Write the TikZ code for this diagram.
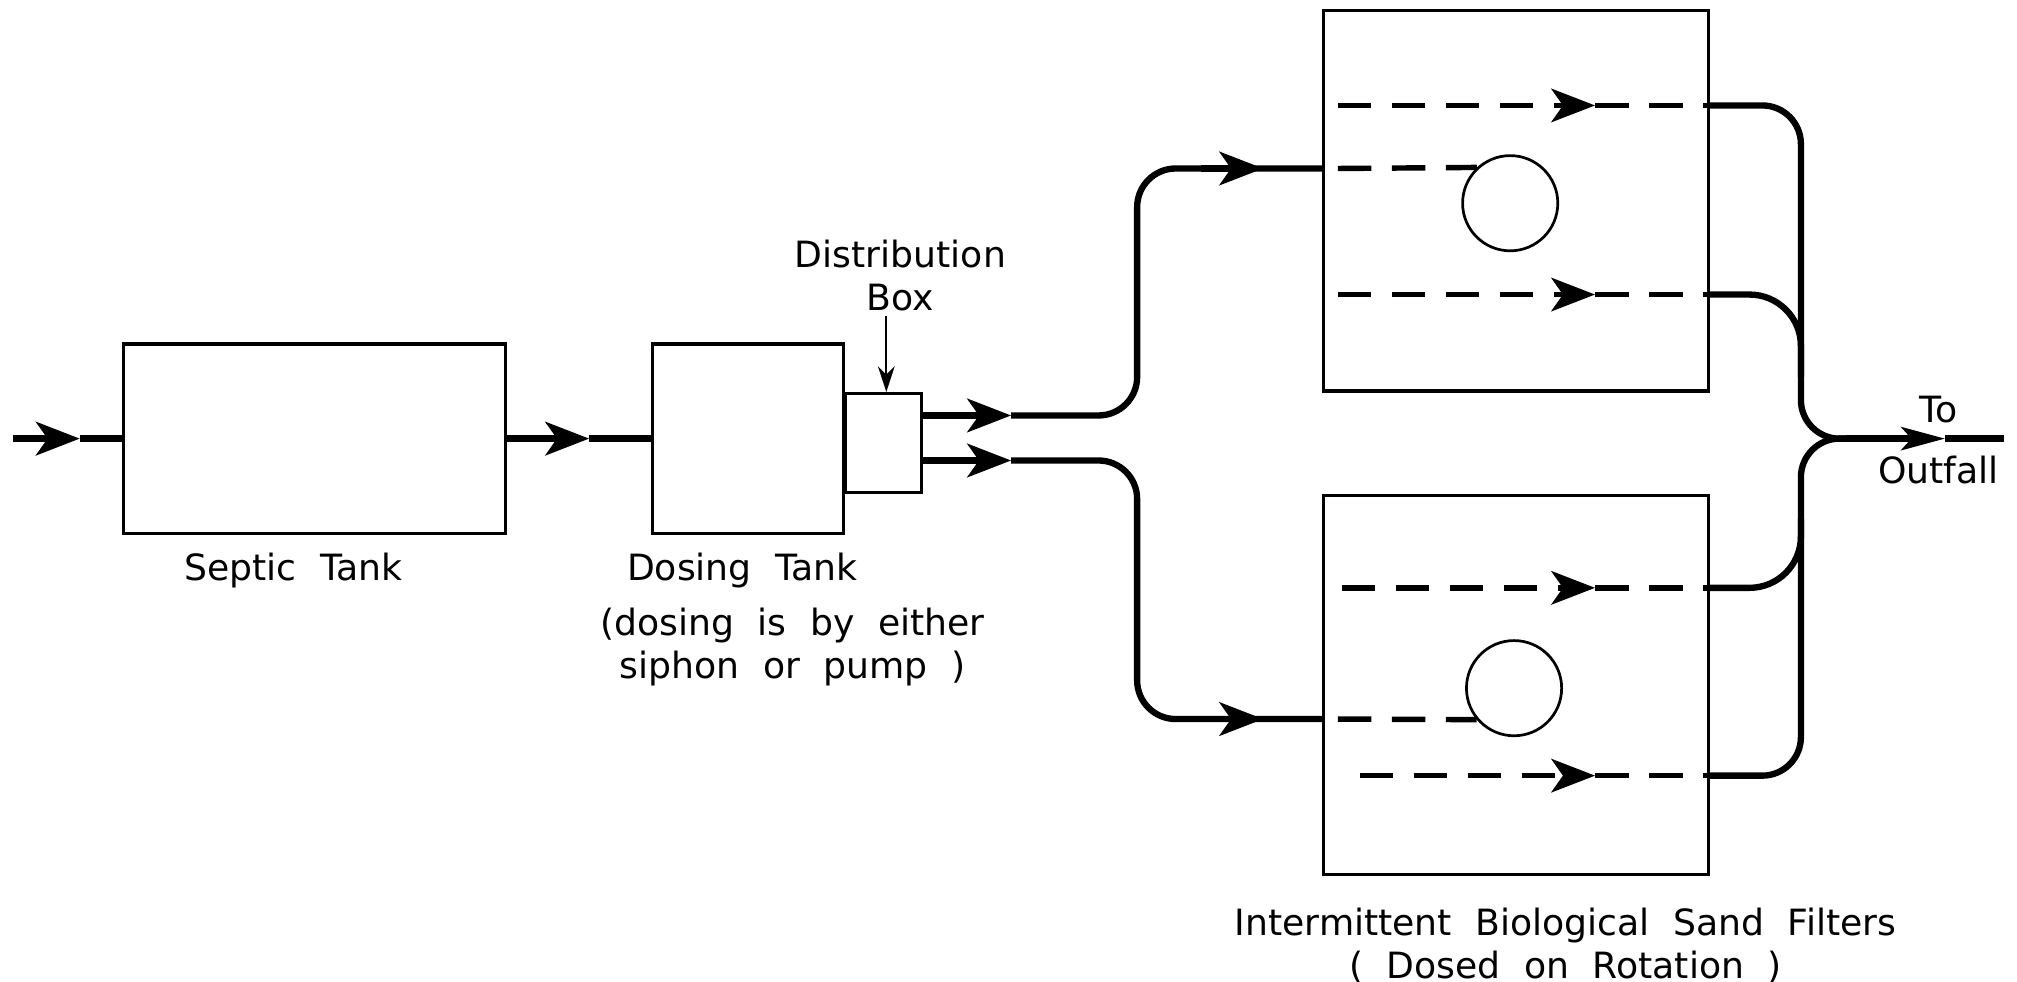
\documentclass[tikz,border=0pt]{standalone}
\usepackage{fontspec}
\setmainfont{DejaVu Sans}
\usetikzlibrary{arrows.meta,positioning}
\newcommand\lblfont{\fontsize{8}{9.5}\selectfont\spaceskip=0.65em\relax}

\begin{document}
\begin{tikzpicture}[
  flow/.style={line width=1.4pt},
  tank/.style={draw, line width=0.7pt, inner sep=0pt},
  seep/.style={line width=1.2pt, dash pattern=on 2.6mm off 1.6mm},
  head/.style={-{Stealth[length=3.4mm,width=2.6mm,inset=0.9mm]}},
  thinhead/.style={-{Stealth[length=3.4mm,width=1.8mm,inset=0.8mm]}},
  pointer/.style={line width=0.5pt,-{Stealth[length=2mm,width=1.3mm]}},
  lbl/.style={font=\lblfont, align=center, inner sep=0pt},
  hole/.style={draw, circle, line width=0.6pt, minimum size=7.4mm, inner sep=0pt}
]
\useasboundingbox (0,0) rectangle (15.68,7.63);

% tanks
\node[tank, minimum width=2.97cm, minimum height=1.47cm] (septic) at (2.445,4.22) {};
\node[tank, minimum width=1.49cm, minimum height=1.47cm] (dosing) at (5.815,4.22) {};
\node[tank, minimum width=0.59cm, minimum height=0.77cm, anchor=west] (distbox) at (6.56,4.185) {};

% filters
\node[tank, minimum width=2.99cm, minimum height=2.96cm] (ftop) at (11.785,6.07) {};
\node[tank, minimum width=2.99cm, minimum height=2.95cm] (fbot) at (11.785,2.305) {};
\node[hole] (htop) at (11.74,6.05) {};
\node[hole] (hbot) at (11.77,2.28) {};

% labels
\node[lbl, anchor=base] (septiclbl) at (2.28,3.12) {Septic Tank};
\node[lbl, anchor=base] (dosinglbl) at (5.77,3.12) {Dosing Tank};
\node[lbl, anchor=north] (notelbl) at (6.16,2.91) {(dosing is by either\\siphon or pump )};
\node[lbl, anchor=north] (distlbl) at (7.00,5.77) {Distribution\\Box};
\node[lbl, anchor=north] (filterlbl) at (12.17,0.58) {Intermittent Biological Sand Filters\\( Dosed on Rotation )};
\node[lbl, anchor=north] (outlbl) at (15.07,4.56) {To\\[4pt]Outfall};

% points on the flow lines
\coordinate (feed) at (0.10,4.22);
\coordinate (feedtip) at (0.62,4.22);
\coordinate (stip) at (4.58,4.22);
\coordinate (o1) at (7.15,4.40);
\coordinate (o2) at (7.15,4.05);
\coordinate (o1tip) at (7.86,4.40);
\coordinate (o2tip) at (7.86,4.05);
\coordinate (b1) at (8.84,4.40);
\coordinate (b2) at (8.84,6.32);
\coordinate (b3) at (8.84,4.05);
\coordinate (b4) at (8.84,2.04);
\coordinate (t1) at (9.82,6.32);
\coordinate (t2) at (9.82,2.04);
\coordinate (join) at (14.35,4.22);
\coordinate (outtip) at (15.12,4.22);
\coordinate (outend) at (15.58,4.22);
\coordinate (ptr) at (6.89,5.17);

% main line
\draw[flow,head] (feed) -- (feedtip);
\draw[flow] (feedtip) -- (septic.west);
\draw[flow,head] (septic.east) -- (stip);
\draw[flow] (stip) -- (dosing.west);
\draw[pointer] (ptr) -- (ptr |- distbox.north);

% to the filters
\draw[flow,head] (o1) -- (o1tip);
\draw[flow,rounded corners=3mm] (o1tip) -- (b1) -- (b2) -- (ftop.west |- b2);
\draw[flow,head] ([xshift=5mm]b2) -- (t1);
\draw[flow,head] (o2) -- (o2tip);
\draw[flow,rounded corners=3mm] (o2tip) -- (b3) -- (b4) -- (fbot.west |- b4);
\draw[flow,head] ([xshift=5mm]b4) -- (t2);

% inside the top filter
\draw[seep,head] (10.40,6.81) -- (12.40,6.81);
\draw[seep] (12.40,6.81) -- (13.28,6.81);
\draw[seep] (10.40,6.32) -- (htop.133);
\draw[seep,head] (10.40,5.34) -- (12.40,5.34);
\draw[seep] (12.40,5.34) -- (13.28,5.34);

% inside the bottom filter
\draw[seep,head] (10.43,3.06) -- (12.40,3.06);
\draw[seep] (12.40,3.06) -- (13.28,3.06);
\draw[seep] (10.40,2.04) -- (hbot.220);
\draw[seep,head] (10.57,1.60) -- (12.40,1.60);
\draw[seep] (12.40,1.60) -- (13.28,1.60);

% collector
\draw[flow,rounded corners=3mm] (13.28,6.81) -- (14.00,6.81) -- (14.00,4.22) -- (join);
\draw[flow,rounded corners=4mm] (13.28,5.34) -- (14.00,5.34) -- (14.00,4.70);
\draw[flow,rounded corners=3mm] (13.28,1.60) -- (14.00,1.60) -- (14.00,4.22) -- (join);
\draw[flow,rounded corners=4mm] (13.28,3.06) -- (14.00,3.06) -- (14.00,3.60);
\draw[flow,thinhead] (join) -- (outtip);
\draw[flow] (outtip) -- (outend);
\end{tikzpicture}
\end{document}
